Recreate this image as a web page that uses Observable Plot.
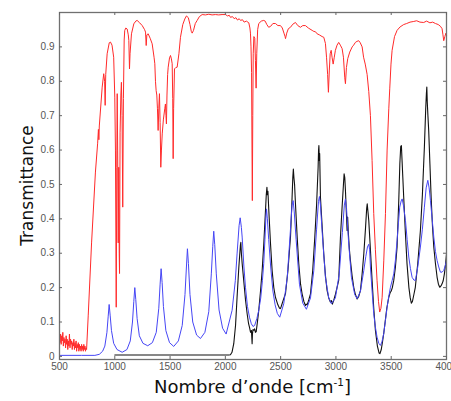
<!DOCTYPE html>
<html><head><meta charset="utf-8">
<script src="https://cdn.jsdelivr.net/npm/d3@7"></script>
<script src="https://cdn.jsdelivr.net/npm/@observablehq/plot@0.6"></script>
<style>html,body{margin:0;padding:0;overflow:hidden;background:#fff}svg{display:block}</style>
</head><body><div id="chart"></div>
<script>
// ---- data ----
const xTicks = [500,1000,1500,2000,2500,3000,3500,4000];
const yTicks = [0,0.1,0.2,0.3,0.4,0.5,0.6,0.7,0.8,0.9];
const xTitle = "Nombre d\u2019onde [cm";
const xTitleSup = "-1";
const yTitle = "Transmittance";

const redX = [500,505,510,515,520,525,530,535,540,545,550,555,560,565,570,575,580,585,590,595,600,605,610,615,620,625,630,635,640,645,650,655,660,665,670,675,680,685,690,695,700,705,710,715,720,725,730,735,740,745,
760,790,825,845,852,856,860,886,900,908,913,918,931,950,961,975,990,1000,1006,1013,1018,1022,1026,1031,1036,1040,1043,1048,1055,1060,1066,1072,1078,1085,1090,1100,1112,1122,1127,1133,1138,1151,1172,1190,1202,1225,1248,1270,1278,1284,1290,1302,1320,1338,1355,1362,1368,1374,1380,1386,1392,1398,1404,1410,1416,1422,1429,1440,1452,1458,1463,1467,1472,1478,1483,1495,1504,1512,1519,1524,1528,1532,1540,1552,1564,1580,1594,1615,1633,1648,1665,1680,1692,1700,1712,1728,1745,1765,1790,1820,1850,1880,1910,1940,1970,2001,2020,2035,2046,2065,2080,2095,2110,2125,2137,2155,2170,2190,2212,2222,2227,2232,2237,2241,2244,2248,2252,2258,2266,2272,2278,2284,2292,2302,2325,2347,2360,2375,2392,2410,2430,2453,2475,2498,2515,2530,2540,2544,2555,2570,2589,2610,2634,2655,2679,2700,2724,2750,2785,2800,2815,2830,2850,2875,2890,2905,2915,2925,2932,2940,2948,2957,2965,2975,2985,2995,3010,3025,3040,3056,3068,3080,3086,3095,3107,3125,3147,3160,3176,3190,3206,3220,3237,3250,3265,3282,3297,3312,3327,3342,3357,3372,3385,3396,3407,3418,3433,3448,3463,3478,3487,3498,3508,3530,3553,3580,3613,3640,3670,3704,3730,3760,3794,3820,3850,3875,3900,3925,3945,3960,3968,3975,3985,3995,4000];
const redY = [0.055,0.04,0.065,0.035,0.06,0.045,0.07,0.03,0.055,0.04,0.05,0.025,0.06,0.035,0.05,0.02,0.045,0.03,0.065,0.025,0.05,0.035,0.045,0.02,0.04,0.03,0.05,0.02,0.04,0.025,0.045,0.015,0.035,0.025,0.04,0.015,0.035,0.02,0.03,0.015,0.035,0.02,0.03,0.015,0.035,0.02,0.03,0.015,0.025,0.02,
0.12,0.33,0.536,0.62,0.66,0.63,0.67,0.783,0.822,0.80,0.73,0.82,0.88,0.912,0.914,0.905,0.87,0.754,0.60,0.143,0.55,0.764,0.60,0.33,0.55,0.30,0.241,0.65,0.76,0.797,0.70,0.434,0.75,0.92,0.948,0.955,0.952,0.935,0.919,0.836,0.88,0.938,0.967,0.975,0.977,0.97,0.962,0.95,0.943,0.904,0.935,0.938,0.925,0.909,0.87,0.851,0.80,0.773,0.76,0.72,0.657,0.72,0.764,0.68,0.55,0.60,0.647,0.69,0.72,0.734,0.70,0.676,0.76,0.82,0.841,0.868,0.875,0.865,0.851,0.75,0.575,0.72,0.836,0.84,0.841,0.88,0.928,0.965,0.981,0.99,0.985,0.965,0.945,0.94,0.948,0.968,0.977,0.988,0.994,0.993,0.995,0.993,0.994,0.993,0.994,0.994,0.99,0.992,0.986,0.988,0.982,0.985,0.978,0.982,0.977,0.979,0.972,0.975,0.97,0.955,0.94,0.90,0.826,0.60,0.453,0.70,0.88,0.93,0.925,0.86,0.78,0.88,0.95,0.968,0.975,0.977,0.975,0.965,0.957,0.96,0.968,0.968,0.962,0.962,0.955,0.94,0.93,0.924,0.94,0.953,0.957,0.966,0.971,0.962,0.957,0.962,0.962,0.955,0.948,0.945,0.944,0.938,0.935,0.93,0.928,0.91,0.87,0.82,0.768,0.83,0.88,0.89,0.87,0.85,0.87,0.89,0.905,0.913,0.905,0.895,0.87,0.81,0.793,0.84,0.866,0.885,0.90,0.905,0.913,0.916,0.918,0.912,0.90,0.87,0.85,0.82,0.77,0.70,0.57,0.415,0.31,0.22,0.16,0.129,0.14,0.172,0.28,0.415,0.6,0.72,0.78,0.85,0.89,0.93,0.948,0.958,0.965,0.968,0.972,0.974,0.976,0.972,0.971,0.975,0.97,0.972,0.968,0.965,0.96,0.953,0.935,0.918,0.93,0.94,0.935];

const blueX = [500,700,820,860,890,910,929,940,949,958,970,990,1020,1067,1110,1140,1160,1172,1181,1190,1202,1222,1255,1298,1340,1375,1398,1410,1419,1428,1440,1462,1495,1533,1575,1610,1635,1648,1657,1666,1680,1705,1740,1775,1815,1850,1873,1886,1895,1904,1918,1943,1975,2007,2061,2090,2106,2124,2134,2145,2152,2168,2182,2200,2218,2235,2250,2265,2285,2302,2320,2335,2347,2358,2366,2372,2380,2392,2410,2430,2450,2470,2492,2528,2560,2585,2603,2613,2623,2640,2670,2700,2733,2770,2800,2825,2842,2851,2860,2878,2905,2935,2959,2995,3030,3058,3076,3086,3096,3115,3140,3170,3192,3222,3252,3270,3285,3297,3305,3312,3327,3342,3357,3372,3388,3402,3416,3432,3448,3463,3478,3493,3508,3523,3538,3553,3566,3577,3590,3599,3610,3629,3644,3659,3674,3689,3705,3719,3740,3764,3782,3800,3816,3831,3843,3855,3870,3885,3900,3915,3930,3945,3960,3975,3990,4000];
const blueY = [0.003,0.003,0.003,0.006,0.015,0.03,0.07,0.115,0.151,0.12,0.075,0.038,0.02,0.012,0.02,0.045,0.10,0.16,0.20,0.165,0.11,0.06,0.038,0.031,0.04,0.07,0.14,0.21,0.255,0.215,0.145,0.075,0.04,0.029,0.045,0.09,0.18,0.26,0.313,0.27,0.18,0.10,0.062,0.052,0.07,0.13,0.24,0.32,0.364,0.325,0.24,0.135,0.082,0.065,0.134,0.22,0.298,0.38,0.403,0.375,0.347,0.26,0.201,0.145,0.114,0.095,0.087,0.09,0.11,0.134,0.17,0.22,0.27,0.34,0.40,0.429,0.40,0.34,0.26,0.19,0.15,0.125,0.114,0.153,0.23,0.35,0.44,0.453,0.42,0.34,0.21,0.155,0.137,0.17,0.25,0.37,0.45,0.465,0.44,0.35,0.23,0.17,0.153,0.17,0.24,0.36,0.44,0.458,0.43,0.33,0.23,0.18,0.168,0.19,0.25,0.29,0.318,0.326,0.31,0.26,0.19,0.124,0.085,0.056,0.038,0.032,0.042,0.066,0.105,0.143,0.175,0.201,0.22,0.24,0.28,0.337,0.39,0.434,0.452,0.458,0.44,0.395,0.34,0.289,0.255,0.23,0.222,0.221,0.26,0.318,0.37,0.434,0.49,0.512,0.49,0.453,0.40,0.347,0.305,0.279,0.26,0.245,0.245,0.25,0.265,0.279];

const blackX = [1000,1500,1900,2030,2046,2060,2076,2092,2106,2122,2136,2140,2145,2152,2166,2182,2197,2210,2218,2228,2236,2240,2242,2245,2250,2257,2265,2272,2279,2290,2302,2318,2333,2348,2363,2370,2376,2380,2385,2393,2408,2423,2438,2453,2475,2490,2498,2505,2520,2544,2566,2589,2602,2610,2615,2620,2626,2634,2649,2664,2680,2694,2710,2724,2732,2740,2755,2770,2790,2809,2825,2839,2843,2846,2850,2853,2860,2875,2890,2905,2920,2935,2950,2960,2968,2980,2995,3010,3025,3041,3055,3068,3074,3080,3086,3094,3101,3106,3112,3122,3131,3146,3161,3176,3192,3207,3222,3237,3252,3267,3278,3283,3290,3297,3312,3327,3342,3357,3375,3390,3398,3410,3420,3432,3445,3460,3478,3490,3500,3510,3523,3538,3553,3568,3578,3586,3592,3598,3605,3613,3628,3643,3660,3672,3682,3692,3705,3718,3740,3764,3782,3800,3812,3818,3822,3826,3832,3839,3850,3861,3873,3885,3900,3915,3927,3939,3950,3960,3970,3981,3992,4000];
const blackY = [0.004,0.004,0.004,0.004,0.005,0.012,0.037,0.09,0.172,0.26,0.323,0.332,0.30,0.27,0.221,0.165,0.124,0.095,0.085,0.07,0.075,0.05,0.037,0.065,0.078,0.076,0.08,0.07,0.072,0.10,0.134,0.19,0.25,0.33,0.424,0.47,0.492,0.47,0.48,0.424,0.33,0.25,0.2,0.172,0.15,0.14,0.139,0.145,0.16,0.183,0.25,0.347,0.45,0.52,0.545,0.52,0.5,0.444,0.35,0.269,0.21,0.182,0.16,0.148,0.152,0.15,0.165,0.182,0.25,0.347,0.44,0.55,0.60,0.613,0.57,0.59,0.463,0.38,0.298,0.235,0.192,0.17,0.158,0.162,0.152,0.163,0.18,0.2,0.221,0.347,0.43,0.5,0.531,0.52,0.483,0.42,0.366,0.405,0.36,0.31,0.279,0.235,0.201,0.18,0.167,0.175,0.192,0.24,0.298,0.37,0.43,0.444,0.42,0.395,0.31,0.221,0.14,0.076,0.03,0.01,0.008,0.02,0.04,0.066,0.1,0.14,0.172,0.185,0.19,0.2,0.221,0.26,0.318,0.45,0.56,0.61,0.613,0.57,0.52,0.463,0.36,0.269,0.2,0.17,0.155,0.16,0.18,0.201,0.27,0.366,0.47,0.609,0.72,0.763,0.783,0.74,0.70,0.657,0.56,0.463,0.38,0.318,0.27,0.23,0.21,0.201,0.205,0.211,0.22,0.24,0.27,0.298];

// ---- chart ----
const W = 451, H = 401, mL = 59, mR = 5, mT = 12, mB = 42;
const innerW = W - mL - mR, innerH = H - mT - mB;
const red = redX.map((x,i)=>({x, y: redY[i]}));
const blue = blueX.map((x,i)=>({x, y: blueY[i]}));
const black = blackX.map((x,i)=>({x, y: blackY[i]}));

const chart = Plot.plot({
  width: W, height: H,
  marginLeft: mL, marginRight: mR, marginTop: mT, marginBottom: mB,
  style: {fontFamily: "'Liberation Sans', Arial, sans-serif", background: "#fff", overflow: "hidden"},
  x: {domain: [500, 4000]},
  y: {domain: [-0.009, 1.0]},
  marks: [
    Plot.line(black, {x: "x", y: "y", stroke: "#111", strokeWidth: 1.1}),
    Plot.line(blue, {x: "x", y: "y", stroke: "#4646f5", strokeWidth: 1}),
    Plot.line(red, {x: "x", y: "y", stroke: "#ff2a2a", strokeWidth: 1}),
    Plot.frame({stroke: "#707070", strokeWidth: 1.3}),
    Plot.tickX(xTicks, {x: d => d, insetTop: innerH - 3, stroke: "#666"}),
    Plot.tickX(xTicks, {x: d => d, insetBottom: innerH - 3, stroke: "#666"}),
    Plot.tickY(yTicks, {y: d => d, insetRight: innerW - 3, stroke: "#666"}),
    Plot.tickY(yTicks, {y: d => d, insetLeft: innerW - 3, stroke: "#666"}),
    Plot.axisX(xTicks, {tickSize: 0, tickPadding: 3, fontSize: 10, fill: "#555", label: null, tickFormat: d => String(d)}),
    Plot.axisY(yTicks, {tickSize: 0, tickPadding: 5, fontSize: 10, fill: "#555", label: null, tickFormat: d => String(d)})
  ]
});
document.getElementById("chart").appendChild(chart);

const svg = d3.select(chart);
const xt = svg.append("text")
  .attr("x", mL + innerW / 2).attr("y", 393)
  .attr("text-anchor", "middle")
  .attr("font-family", "'DejaVu Sans', sans-serif")
  .attr("font-size", 18).attr("fill", "#111");
xt.append("tspan").text(xTitle);
xt.append("tspan").attr("font-size", 10.5).attr("dy", -7.5).text(xTitleSup);
xt.append("tspan").attr("dy", 7.5).text("]");

svg.append("text")
  .attr("transform", `translate(33,${mT + innerH / 2}) rotate(-90)`)
  .attr("text-anchor", "middle")
  .attr("font-family", "'DejaVu Sans', sans-serif")
  .attr("font-size", 17).attr("fill", "#111")
  .text(yTitle);
</script>
</body></html>
